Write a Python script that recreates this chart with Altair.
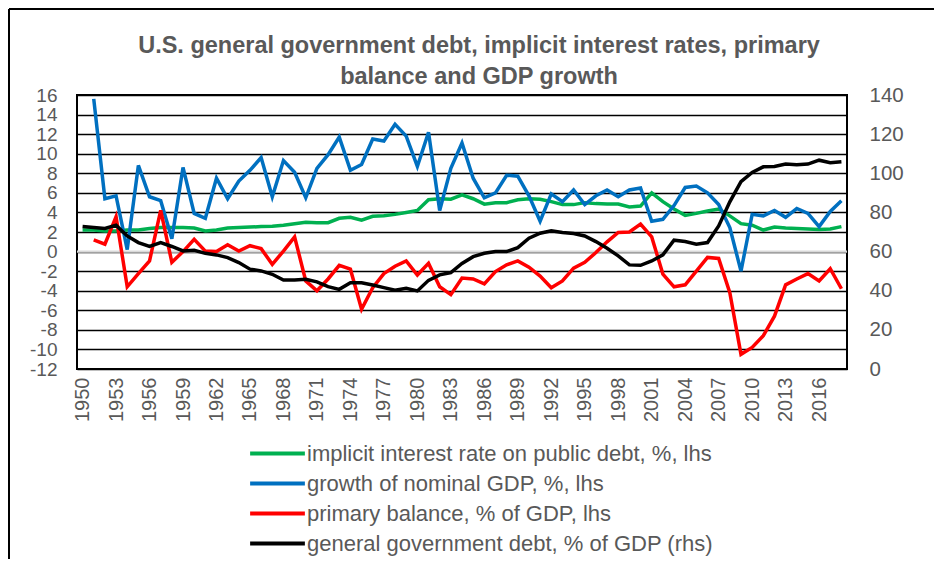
import altair as alt
import pandas as pd

years = list(range(1950, 2019))

interest = [2.2, 2.2, 2.1, 2.1, 2.2, 2.2, 2.35, 2.45, 2.45, 2.45,
            2.4, 2.1, 2.2, 2.4, 2.45, 2.5, 2.55, 2.6, 2.7, 2.85,
            3.0, 2.95, 2.95, 3.4, 3.5, 3.2, 3.6, 3.65, 3.8, 4.0,
            4.2, 5.3, 5.4, 5.35, 5.8, 5.4, 4.85, 5.0, 5.0, 5.3,
            5.4, 5.35, 5.1, 4.8, 4.8, 5.0, 4.9, 4.85, 4.85, 4.55,
            4.65, 6.0, 5.1, 4.35, 3.7, 3.9, 4.15, 4.35, 3.65, 2.85,
            2.7, 2.2, 2.5, 2.4, 2.35, 2.3, 2.25, 2.3, 2.55]

growth = [None, 15.6, 5.4, 5.7, 0.2, 8.8, 5.6, 5.2, 1.3, 8.6,
          3.9, 3.4, 7.5, 5.4, 7.2, 8.3, 9.6, 5.6, 9.3, 8.1,
          5.5, 8.5, 9.9, 11.7, 8.3, 8.9, 11.5, 11.3, 13.0, 11.8,
          8.7, 12.2, 4.2, 8.5, 11.1, 7.5, 5.5, 6.0, 7.8, 7.7,
          5.7, 3.1, 5.9, 5.1, 6.3, 4.8, 5.7, 6.3, 5.6, 6.3,
          6.5, 3.1, 3.3, 4.7, 6.55, 6.7, 6.0, 4.8, 2.45, -2.0,
          3.8, 3.65, 4.2, 3.5, 4.4, 3.9, 2.55, 4.1, 5.2]

primary = [None, 1.2, 0.75, 3.55, -3.6, -2.25, -0.95, 4.2, -1.1, 0.0,
           1.25, 0.05, 0.0, 0.7, 0.05, 0.6, 0.3, -1.3, 0.05, 1.5,
           -3.0, -4.0, -2.8, -1.4, -1.8, -5.9, -3.7, -2.25, -1.5, -0.95,
           -2.4, -1.2, -3.6, -4.4, -2.7, -2.8, -3.3, -2.05, -1.35, -0.95,
           -1.6, -2.5, -3.7, -3.0, -1.7, -1.1, -0.1, 1.0, 1.95, 2.0,
           2.8, 1.5, -2.3, -3.6, -3.4, -2.0, -0.6, -0.7, -4.2, -10.5,
           -9.8, -8.6, -6.6, -3.4, -2.8, -2.25, -3.0, -1.75, -3.8]

debt = [72.8, 72.3, 71.8, 73.5, 68.0, 64.6, 62.6, 64.6, 62.6, 60.3,
        60.7, 59.1, 58.3, 56.9, 54.4, 51.0, 50.1, 48.4, 45.5, 45.5,
        45.8, 44.5, 42.1, 40.7, 44.1, 44.1, 42.9, 41.6, 40.2, 41.2,
        39.9, 45.3, 48.1, 49.3, 53.9, 57.4, 59.1, 60.0, 60.0, 62.0,
        66.8, 69.4, 70.6, 69.7, 69.2, 68.0, 65.1, 61.7, 57.8, 53.2,
        53.0, 55.2, 58.3, 65.8, 65.1, 63.8, 64.6, 73.1, 85.4, 95.7,
        100.4, 103.3, 103.5, 104.7, 104.4, 104.7, 106.7, 105.4, 105.9]

names = ["implicit interest rate on public debt, %, lhs",
         "growth of nominal GDP, %, lhs",
         "primary balance, % of GDP, lhs",
         "general government debt, % of GDP (rhs)"]
colors = ["#00B050", "#0070C0", "#FF0000", "#000000"]

x_ticks = list(range(1950, 2017, 3))
left_ticks = list(range(-12, 17, 2))
right_ticks = list(range(0, 141, 20))

title_lines = ["U.S. general government debt, implicit interest rates, primary",
               "balance and GDP growth"]

rows = []
for name, vals in zip(names[:3], [interest, growth, primary]):
    for yr, v in zip(years, vals):
        if v is not None:
            rows.append({"year": yr, "series": name, "value": v})
left_df = pd.DataFrame(rows)
right_df = pd.DataFrame({"year": years, "series": names[3], "value": debt})
zero_df = pd.DataFrame({"value": [0]})
dummy = pd.DataFrame({"z": [0]})

FONT = "Liberation Sans"
GREY = "#595959"

x_enc = alt.X("year:Q",
              scale=alt.Scale(domain=[1949.5, 2018.5], nice=False, zero=False),
              axis=alt.Axis(values=x_ticks, labelAngle=270, format="d", title=None,
                            grid=False, domain=False, ticks=False, labelPadding=8,
                            labelFontSize=20, labelColor=GREY, labelFont=FONT,
                            labelOverlap=False))

color_enc = alt.Color("series:N",
                      scale=alt.Scale(domain=names, range=colors),
                      legend=alt.Legend(title=None, orient="none", legendX=185, legendY=343,
                                        direction="vertical", symbolType="M-2.1,0H2.1",
                                        symbolSize=680, symbolStrokeWidth=4,
                                        labelFontSize=22, labelColor=GREY, labelFont=FONT,
                                        labelOffset=14, rowPadding=3, labelLimit=700))

y_left = alt.Y("value:Q",
               scale=alt.Scale(domain=[-12, 16], nice=False, zero=False),
               axis=alt.Axis(values=left_ticks, title=None, grid=True, gridColor="#000000",
                             gridWidth=1.3, domain=False, ticks=False, labelPadding=20,
                             labelFontSize=19, labelColor=GREY, labelFont=FONT,
                             labelOverlap=False, labelExpr="'' + datum.value"))

y_right = alt.Y("value:Q",
                scale=alt.Scale(domain=[0, 140], nice=False, zero=False),
                axis=alt.Axis(orient="right", values=right_ticks, title=None, grid=False,
                              domain=False, ticks=False, labelPadding=22,
                              labelFontSize=20.5, labelColor=GREY, labelFont=FONT,
                              labelOverlap=False))

left_lines = alt.Chart(left_df).mark_line(strokeWidth=3.5).encode(
    x=x_enc, y=y_left, color=color_enc)

zero_rule = alt.Chart(zero_df).mark_rule(color="#D9D9D9", strokeWidth=2.2).encode(y=y_left)

right_line = alt.Chart(right_df).mark_line(strokeWidth=3.5).encode(
    x=x_enc, y=y_right, color=color_enc)

border_left = alt.Chart(dummy).mark_rule(color="#000000", strokeWidth=2).encode(
    x=alt.value(-68), y=alt.value(-86), y2=alt.value(470))
border_top = alt.Chart(dummy).mark_rule(color="#000000", strokeWidth=2).encode(
    x=alt.value(-68), x2=alt.value(860), y=alt.value(-86))

left_layer = alt.layer(zero_rule, left_lines)

chart = alt.layer(left_layer, right_line, border_left, border_top).resolve_scale(
    y="independent"
).properties(
    width=770, height=274,
    title=alt.TitleParams(text=title_lines, fontSize=23.5, font=FONT, fontWeight="bold",
                          color=GREY, anchor="middle", frame="group", dx=17, offset=-80,
                          lineHeight=31),
    autosize=alt.AutoSizeParams(type="none"),
    padding={"left": 69, "top": 87, "right": 87, "bottom": 190},
).configure_view(stroke="#000000", strokeWidth=2)

chart.save("out.html", embed_options={"renderer": "svg", "actions": False})
